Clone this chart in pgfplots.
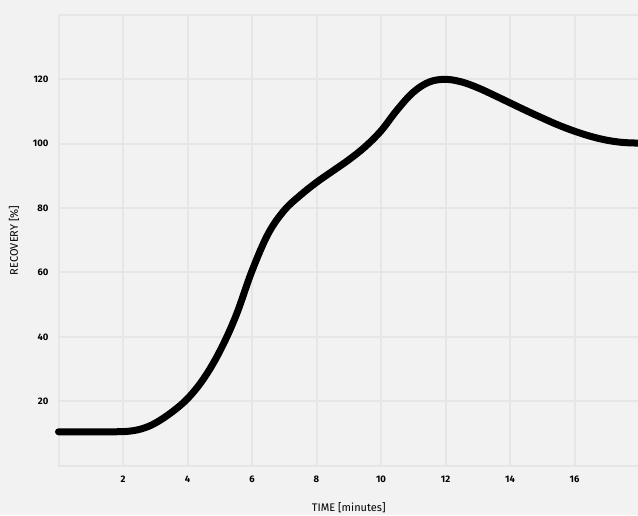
\documentclass[border=0pt]{standalone}
\usepackage{pgfplots}
\pgfplotsset{compat=1.18}
\usepackage{fontspec}
\setmainfont{Fira Sans}
\definecolor{bg}{HTML}{F2F2F2}
\definecolor{gridc}{HTML}{E6E6E6}

\begin{document}
\begin{tikzpicture}[x=1pt,y=1pt]
\clip (0,0) rectangle (638,515);
\fill[bg] (0,0) rectangle (638,515);
\begin{axis}[
    at={(58.5pt,49.4pt)}, anchor=south west,
    scale only axis,
    width=580.5pt, height=450.6pt,
    xmin=0, xmax=18,
    ymin=0, ymax=140,
    xtick={2,4,...,16},
    ytick={20,40,...,120},
    grid=major,
    major grid style={gridc, line width=2pt},
    axis line style={gridc, line width=2pt},
    major tick length=0pt,
    /pgf/number format/assume math mode=true,
    tick label style={font=\bfseries\fontsize{9.5}{10}\selectfont},
    xticklabel style={yshift=-7pt},
    yticklabel style={xshift=-6.5pt},
    xlabel={TIME [minutes]},
    ylabel={RECOVERY [\%]},
    label style={font=\fontsize{11}{12}\selectfont},
    x label style={at={(axis description cs:0.5,0)}, anchor=base, yshift=-45.5pt},
    y label style={at={(axis description cs:-0.0767,0.5)}, anchor=center},
    clip=false,
]
\addplot[black, line width=7pt, smooth, tension=0.6, line cap=round, line join=round] coordinates {
    (0,10.5)(1,10.5)(1.7,10.5)(2.2,10.7)(2.6,11.5)(3,13.2)(3.5,16.5)(4,20.8)(4.5,27)(5,35.5)
    (5.5,46.5)(6,60.5)(6.5,72)(7,79.3)(7.5,84)(8,88)(8.5,91.5)(9,95)
    (9.5,99)(10,104)(10.5,110.5)(11,116)(11.5,119.2)(12,120)(12.5,119.2)(13,117.4)
    (13.5,115.1)(14,112.7)(14.5,110.3)(15,108)(15.5,105.8)(16,103.9)(16.5,102.3)(17,101.1)(17.5,100.4)(18,100.2)
};
\end{axis}
\end{tikzpicture}
\end{document}
